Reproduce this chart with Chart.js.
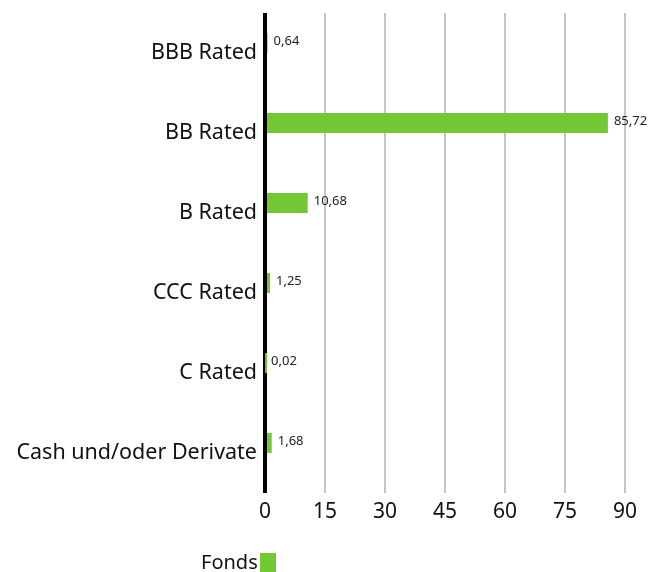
<!DOCTYPE html>
<html>
<head>
<meta charset="utf-8">
<script src="https://cdn.jsdelivr.net/npm/chart.js@4/dist/chart.umd.min.js"></script>
<style>
  html, body { margin: 0; padding: 0; background: #fff; overflow: hidden; }
  #wrap { position: relative; width: 664px; height: 572px; overflow: hidden; }
  #leyenda {
    position: absolute; left: 201px; top: 549px;
    font-family: 'Noto Sans', 'DejaVu Sans', sans-serif; font-size: 20px; color: #111;
    line-height: 26px; white-space: nowrap;
  }
  #leyenda .caja {
    display: inline-block; width: 16px; height: 22px; margin-left: 2px;
    vertical-align: -6px;
  }
</style>
</head>
<body>
<div id="wrap">
  <canvas id="grafico" width="664" height="572"></canvas>
  <div id="leyenda"></div>
</div>
<script>
// Datos del grafico
const categorias = ["BBB Rated", "BB Rated", "B Rated", "CCC Rated", "C Rated", "Cash und/oder Derivate"];
const valoresFonds = [0.64, 85.72, 10.68, 1.25, 0.02, 1.68];
const ticksEje = [0, 15, 30, 45, 60, 75, 90];
const nombreSerie = "Fonds";

const VERDE = "#74c836";
const FUENTE = "'Noto Sans', 'DejaVu Sans', sans-serif";

// Formato con coma decimal
function formatear(v) {
  return v.toFixed(2).replace(".", ",");
}

// Plugin que escribe el valor al final de cada barra
const etiquetasValor = {
  id: "etiquetasValor",
  afterDatasetsDraw(chart) {
    const ctx = chart.ctx;
    const meta = chart.getDatasetMeta(0);
    ctx.save();
    ctx.font = "13px " + FUENTE;
    ctx.fillStyle = "#222";
    ctx.textAlign = "left";
    ctx.textBaseline = "middle";
    meta.data.forEach(function (barra, i) {
      ctx.fillText(formatear(valoresFonds[i]), barra.x + 6, barra.y - 2);
    });
    ctx.restore();
  }
};

const canvas = document.getElementById("grafico");
const grafico = new Chart(canvas, {
  type: "bar",
  data: {
    labels: categorias,
    datasets: [
      { label: nombreSerie, data: valoresFonds, backgroundColor: VERDE, borderWidth: 0,
        categoryPercentage: 0.5, barPercentage: 1.0 },
      // serie vacia para que la barra quede en la mitad superior
      { label: "", data: [], backgroundColor: "transparent",
        categoryPercentage: 0.5, barPercentage: 1.0 }
    ]
  },
  options: {
    indexAxis: "y",
    responsive: false,
    animation: false,
    layout: { padding: { top: 13, right: 39, left: 0, bottom: 23 } },
    plugins: {
      tooltip: { enabled: false },
      legend: { display: false }
    },
    scales: {
      x: {
        min: 0,
        max: 90,
        afterBuildTicks: function (scale) {
          scale.ticks = ticksEje.map(function (v) { return { value: v }; });
        },
        border: { display: false },
        grid: {
          drawTicks: false,
          color: function (c) { return c.tick.value === 0 ? "#000" : "#c6c6c6"; },
          lineWidth: function (c) { return c.tick.value === 0 ? 4 : 2; }
        },
        ticks: {
          color: "#111",
          padding: 6,
          font: { family: FUENTE, size: 21 }
        },
        afterFit: function (scale) { scale.height = 56; }
      },
      y: {
        border: { display: false },
        grid: { display: false, drawTicks: false },
        ticks: {
          color: "#111",
          padding: 8,
          font: { family: FUENTE, size: 21.5 }
        },
        afterFit: function (scale) {
          scale.width = 265;
          scale.paddingTop = 0;
          scale.paddingBottom = 0;
        }
      }
    }
  },
  plugins: [etiquetasValor]
});

// Leyenda en HTML: texto y luego el cuadro de color
const leyenda = document.getElementById("leyenda");
grafico.data.datasets.slice(0, 1).forEach(function (ds) {
  const texto = document.createElement("span");
  texto.textContent = ds.label;
  const caja = document.createElement("span");
  caja.className = "caja";
  caja.style.background = ds.backgroundColor;
  leyenda.appendChild(texto);
  leyenda.appendChild(caja);
});
</script>
</body>
</html>
